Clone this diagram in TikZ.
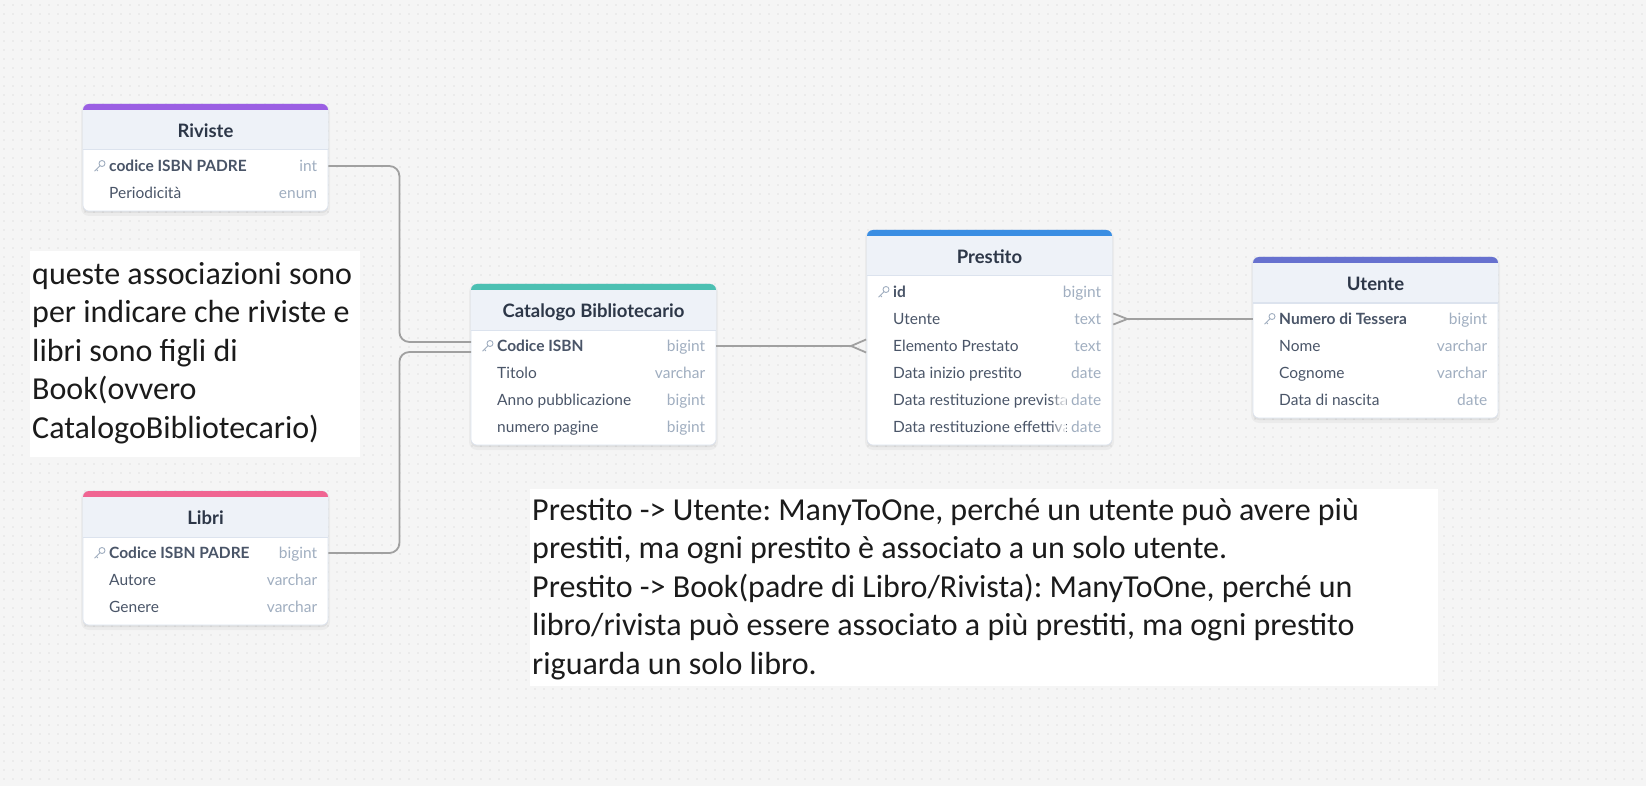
\documentclass[tikz,border=0pt]{standalone}
\usepackage{fontspec}
\setmainfont{Lato}
\newfontfamily\notefont{Carlito}
\usetikzlibrary{arrows.meta,fadings}
\frenchspacing

\definecolor{bgcol}{HTML}{F5F5F5}
\definecolor{dotcol}{HTML}{CDCDCD}
\definecolor{headcol}{HTML}{EEF2F8}
\definecolor{sepcol}{HTML}{DCE3EE}
\definecolor{titlecol}{HTML}{2D3748}
\definecolor{fieldcol}{HTML}{4A5568}
\definecolor{typecol}{HTML}{A0AEC0}
\definecolor{linecol}{HTML}{A0A0A0}
\definecolor{notecol}{HTML}{1B1B1B}
\definecolor{rivcol}{HTML}{9B5FE3}
\definecolor{catcol}{HTML}{4CC0B2}
\definecolor{precol}{HTML}{3A8EE3}
\definecolor{utecol}{HTML}{6771CF}
\definecolor{libcol}{HTML}{F06592}

\tikzset{
  tbltitle/.style={inner sep=0, font=\fontsize{18.5}{22}\selectfont\bfseries, text=titlecol, text height=13.3pt, text depth=0pt},
  fieldtxt/.style={anchor=west, inner sep=0, font=\fontsize{15.5}{18}\selectfont, text=fieldcol, text height=11.2pt, text depth=0pt},
  keytxt/.style={fieldtxt, font=\fontsize{15.5}{18}\selectfont\bfseries},
  typetxt/.style={anchor=east, inner sep=0, font=\fontsize{15.5}{18}\selectfont, text=typecol, text height=11.2pt, text depth=0pt},
  rowbox/.style={anchor=west, inner sep=0, minimum width=245, minimum height=27},
  keyicon/.style={draw=typecol, line width=.9},
  conn/.style={draw=linecol, line width=1.8},
  notebox/.style={fill=white, anchor=north west, inner sep=0},
  notetxt/.style={anchor=base west, inner sep=0, font=\notefont\fontsize{32}{38}\selectfont, text=notecol},
}

% table frame: name, left, top, rows, colour, title
\newcommand\ertable[6]{%
  \pgfmathsetmacro\tblbot{#3+53+27*#4}
  \fill[black, opacity=.04, rounded corners=8] (#2-2,{#3}) rectangle (#2+247,\tblbot+5);
  \fill[black, opacity=.05, rounded corners=6] (#2,{#3+1}) rectangle (#2+245,\tblbot+2);
  \filldraw[fill=white, draw=sepcol, line width=.6, rounded corners=6] (#2,{#3}) rectangle (#2+245,\tblbot);
  \fill[#5, rounded corners=6] (#2,{#3}) rectangle (#2+245,{#3+12});
  \fill[headcol] (#2,{#3+6}) rectangle (#2+245,{#3+46});
  \draw[sepcol, line width=1] (#2,{#3+46}) -- (#2+245,{#3+46});
  \node[tbltitle] (#1) at (#2+122.5,{#3+27}) {#6};
}

% table row: name, left, y, style, field, type
\newcommand\errow[6]{%
  \node[rowbox] (#1) at (#2,{#3}) {};
  \begin{scope}
    \clip (#1.south west) rectangle ([xshift=-46pt]#1.north east);
    \node[#4] (#1-f) at ([xshift=26pt]#1.west) {#5};
  \end{scope}
  \fill[white, path fading=west] ([xshift=-62pt]#1.south east) rectangle ([xshift=-46pt]#1.north east);
  \node[typetxt] (#1-t) at ([xshift=-11pt]#1.east) {#6};
}

\newcommand\keyicon[1]{%
  \draw[keyicon] ([shift={(19pt,2.5pt)}]#1.west) circle (3pt);
  \draw[keyicon] ([shift={(17pt,0.3pt)}]#1.west) -- ++(-5.5,5.5) ++(1.8,-1.8) -- ++(1.6,1.6);
}

\begin{document}
\begin{tikzpicture}[x=1pt, y=-1pt]
  \useasboundingbox (0,0) rectangle (1646,786);
  \fill[bgcol] (0,0) rectangle (1646,786);
  \foreach \j in {0,...,86}
    \draw[dotcol, line width=1.4, line cap=round, dash pattern=on 0pt off 9pt] (4,{5+9*\j}) -- (1646,{5+9*\j});

  % Riviste
  \ertable{riv}{83}{104}{2}{rivcol}{Riviste}
  \errow{riv-1}{83}{166}{keytxt}{codice ISBN PADRE}{int}
  \keyicon{riv-1}
  \errow{riv-2}{83}{193}{fieldtxt}{Periodicità}{enum}

  % Libri
  \ertable{lib}{83}{491}{3}{libcol}{Libri}
  \errow{lib-1}{83}{553}{keytxt}{Codice ISBN PADRE}{bigint}
  \keyicon{lib-1}
  \foreach \f/\t [count=\i from 2] in {Autore/varchar, Genere/varchar}
    {\errow{lib-\i}{83}{553+27*(\i-1)}{fieldtxt}{\f}{\t}}

  % Catalogo Bibliotecario
  \ertable{cat}{471}{284}{4}{catcol}{Catalogo Bibliotecario}
  \errow{cat-1}{471}{346}{keytxt}{Codice ISBN}{bigint}
  \keyicon{cat-1}
  \foreach \f/\t [count=\i from 2] in {Titolo/varchar, Anno pubblicazione/bigint, numero pagine/bigint}
    {\errow{cat-\i}{471}{346+27*(\i-1)}{fieldtxt}{\f}{\t}}

  % Prestito
  \ertable{pre}{867}{230}{6}{precol}{Prestito}
  \errow{pre-1}{867}{292}{keytxt}{id}{bigint}
  \keyicon{pre-1}
  \foreach \f/\t [count=\i from 2] in {Utente/text, Elemento Prestato/text, Data inizio prestito/date,
      Data restituzione prevista/date, Data restituzione effettiva/date}
    {\errow{pre-\i}{867}{292+27*(\i-1)}{fieldtxt}{\f}{\t}}

  % Utente
  \ertable{ute}{1253}{257}{4}{utecol}{Utente}
  \errow{ute-1}{1253}{319}{keytxt}{Numero di Tessera}{bigint}
  \keyicon{ute-1}
  \foreach \f/\t [count=\i from 2] in {Nome/varchar, Cognome/varchar, Data di nascita/date}
    {\errow{ute-\i}{1253}{319+27*(\i-1)}{fieldtxt}{\f}{\t}}

  % relations
  \draw[conn, rounded corners=10] (riv-1.east) -- ++(71,0) |- ([yshift=4pt]cat-1.west);
  \draw[conn, rounded corners=10] (lib-1.east) -- ++(71,0) |- ([yshift=-6pt]cat-1.west);
  \draw[conn, -{Straight Barb[reversed, length=15pt, width=13pt]}] (cat-1.east) -- (pre-3.west);
  \draw[conn, {Straight Barb[reversed, length=14pt, width=11pt]}-] (pre-2.east) -- (ute-1.west);

  % notes
  \node[notebox, minimum width=330, minimum height=206] (leftnote) at (30,251) {};
  \foreach \l [count=\i] in {{queste associazioni sono}, {per indicare che riviste e},
      {libri sono figli di}, {Book(ovvero}, {CatalogoBibliotecario)}}
    \node[notetxt] (leftnote-\i) at (32,{284+38.5*(\i-1)}) {\l};

  \node[notebox, minimum width=908, minimum height=197] (loannote) at (530,489) {};
  \foreach \l [count=\i] in {{Prestito -> Utente: ManyToOne, perché un utente può avere più},
      {prestiti, ma ogni prestito è associato a un solo utente.},
      {Prestito -> Book(padre di Libro/Rivista): ManyToOne, perché un},
      {libro/rivista può essere associato a più prestiti, ma ogni prestito},
      {riguarda un solo libro.}}
    \node[notetxt] (loannote-\i) at (532,{520+38.5*(\i-1)}) {\l};
\end{tikzpicture}
\end{document}
